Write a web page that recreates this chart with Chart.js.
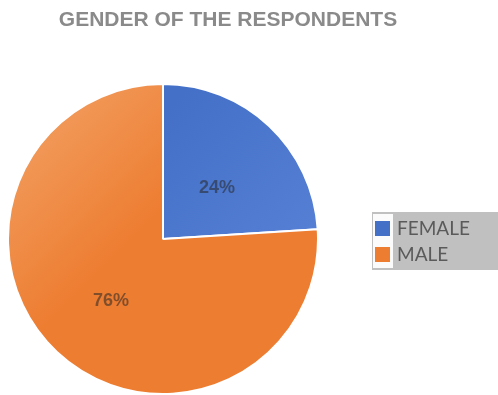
<!DOCTYPE html>
<html>
<head>
<meta charset="utf-8">
<title>Gender of the respondents</title>
<script src="https://cdn.jsdelivr.net/npm/chart.js@4/dist/chart.umd.min.js"></script>
<style>
  html, body { margin: 0; padding: 0; background: #fff; }
  #chart { display: block; }
</style>
</head>
<body>
<canvas id="chart" width="498" height="395"></canvas>
<script>
const title = "GENDER OF THE RESPONDENTS";
const labels = ["FEMALE", "MALE"];
const shares = [24, 76];

const blue = ["#4470c8", "#5b85d8"];
const orange = ["#f3a469", "#ed7d31"];

// soft diagonal shading on each slice
function shade(ctx) {
  const area = ctx.chart.chartArea;
  if (!area) return null;
  const stops = ctx.dataIndex === 0 ? blue : orange;
  const g = ctx.chart.ctx.createLinearGradient(area.left, area.top, area.right, area.bottom);
  if (ctx.dataIndex === 0) {
    g.addColorStop(0.3, stops[0]);
    g.addColorStop(0.9, stops[1]);
  } else {
    g.addColorStop(0, stops[0]);
    g.addColorStop(0.45, stops[1]);
  }
  return g;
}

const sliceLabels = {
  id: "sliceLabels",
  afterDatasetsDraw(chart) {
    const ctx = chart.ctx;
    const meta = chart.getDatasetMeta(0);
    ctx.save();
    ctx.font = "bold 18px 'Liberation Sans', Arial, sans-serif";
    ctx.fillStyle = "rgba(40, 40, 40, 0.55)";
    ctx.textAlign = "center";
    ctx.textBaseline = "middle";
    meta.data.forEach((arc, i) => {
      const p = arc.tooltipPosition();
      ctx.fillText(shares[i] + "%", p.x + 1, p.y + 6);
    });
    ctx.restore();
  }
};

// title and boxed legend on the right
const decorations = {
  id: "decorations",
  afterDraw(chart) {
    const ctx = chart.ctx;
    ctx.save();
    ctx.font = "bold 21px 'Liberation Sans', Arial, sans-serif";
    ctx.fillStyle = "#8a8a8a";
    ctx.textAlign = "center";
    ctx.textBaseline = "alphabetic";
    ctx.fillText(title, 228, 26);

    ctx.fillStyle = "#c0c0c0";
    ctx.fillRect(372, 212, 126, 58);
    ctx.fillStyle = "#fbfbfb";
    ctx.fillRect(373, 214, 20, 54);

    const colors = [blue[0], orange[1]];
    ctx.font = "19px Lato, 'Open Sans', sans-serif";
    ctx.textAlign = "left";
    ctx.textBaseline = "middle";
    labels.forEach((name, i) => {
      const y = 228 + i * 26;
      ctx.fillStyle = colors[i];
      ctx.fillRect(375, y - 7, 15, 15);
      ctx.fillStyle = "#5a5a5a";
      ctx.fillText(name, 397, y + 1);
    });
    ctx.restore();
  }
};

const config = {
  type: "pie",
  data: {
    labels: labels,
    datasets: [
      {
        data: shares,
        backgroundColor: shade,
        borderColor: "#ffffff",
        borderWidth: 2,
        hoverOffset: 0,
      },
    ],
  },
  options: {
    responsive: false,
    animation: false,
    layout: {
      padding: { left: 7, right: 179, top: 83, bottom: 0 },
    },
    plugins: {
      legend: { display: false },
      tooltip: { enabled: false },
    },
  },
  plugins: [sliceLabels, decorations],
};

window.onload = function () {
  window.myPie = new Chart(document.getElementById("chart"), config);
};
</script>
</body>
</html>
